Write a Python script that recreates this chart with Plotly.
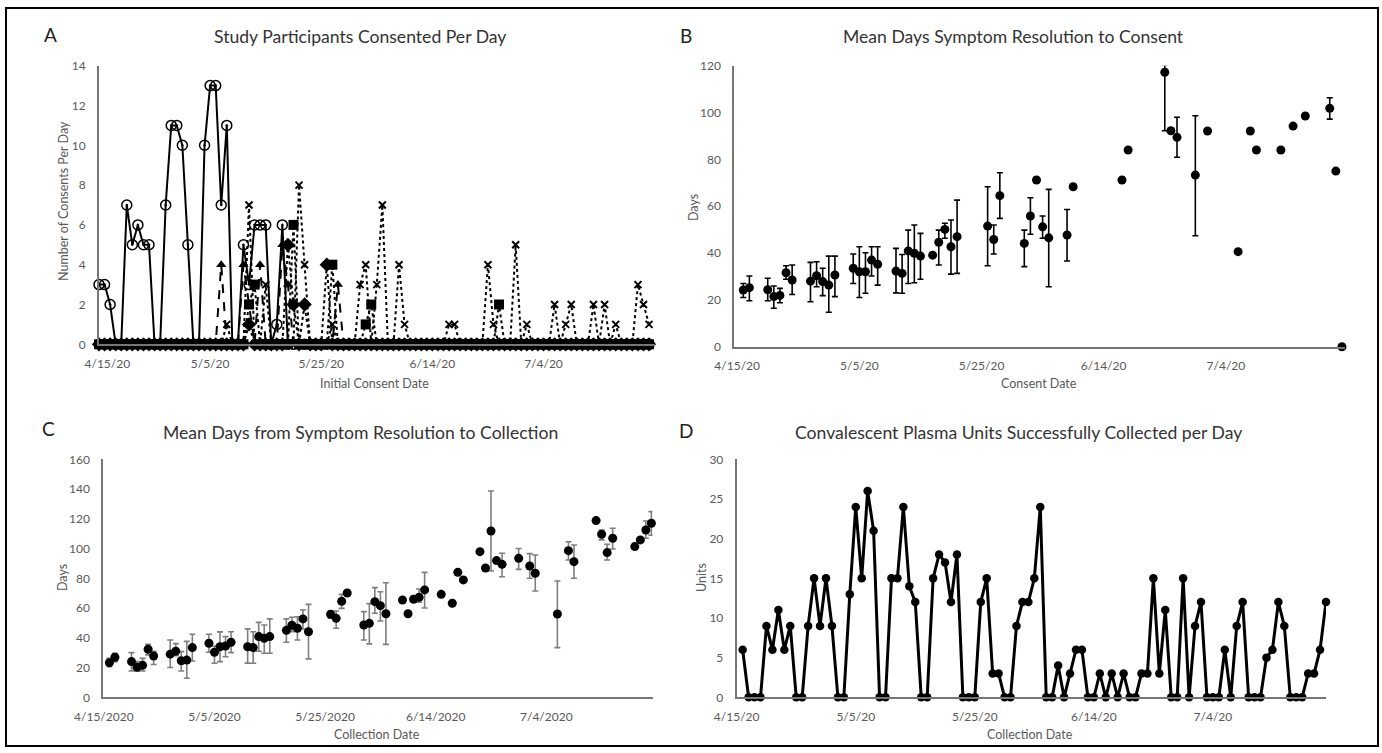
import plotly.graph_objects as go
import pandas as pd

START = pd.Timestamp("2020-04-15")
W, H = 1382, 753

# ---------------- Panel A: consents per day (days since 4/15/20) ----------------
A_days = list(range(100))
A_circle = [3, 3, 2, 0, 0, 7, 5, 6, 5, 5,
            0, 0, 7, 11, 11, 10, 5, 0, 0, 10,
            13, 13, 7, 11, 0, 0, 5, 3, 6, 6,
            6, 0, 1, 6, 0, 0, 0, 0, 0, 0,
            0, 0, 0, 0, 0, 0, 0, 0, 0, 0,
            0, 0, 0, 0, 0, 0, 0, 0, 0, 0,
            0, 0, 0, 0, 0, 0, 0, 0, 0, 0,
            0, 0, 0, 0, 0, 0, 0, 0, 0, 0,
            0, 0, 0, 0, 0, 0, 0, 0, 0, 0,
            0, 0, 0, 0, 0, 0, 0, 0, 0, 0]
A_triangle = [0, 0, 0, 0, 0, 0, 0, 0, 0, 0,
              0, 0, 0, 0, 0, 0, 0, 0, 0, 0,
              0, 0, 4, 0, 0, 0, 4, 2, 0, 4,
              0, 0, 0, 5, 3, 0, 0, 0, 0, 0,
              0, 0, 0, 3, 0, 0, 0, 0, 0, 0,
              0, 0, 0, 0, 0, 0, 0, 0, 0, 0,
              0, 0, 0, 0, 0, 0, 0, 0, 0, 0,
              0, 0, 0, 0, 0, 0, 0, 0, 0, 0,
              0, 0, 0, 0, 0, 0, 0, 0, 0, 0,
              0, 0, 0, 0, 0, 0, 0, 0, 0, 0]
A_cross = [0, 0, 0, 0, 0, 0, 0, 0, 0, 0,
           0, 0, 0, 0, 0, 0, 0, 0, 0, 0,
           0, 0, 0, 1, 0, 0, 0, 7, 0, 0,
           3, 0, 0, 0, 0, 0, 8, 4, 0, 0,
           0, 0, 1, 0, 0, 0, 0, 3, 4, 0,
           3, 7, 0, 0, 4, 1, 0, 0, 0, 0,
           0, 0, 0, 1, 1, 0, 0, 0, 0, 0,
           4, 1, 0, 0, 0, 5, 0, 1, 0, 0,
           0, 0, 2, 0, 1, 2, 0, 0, 0, 2,
           0, 2, 0, 1, 0, 0, 0, 3, 2, 1]
A_square = [0, 0, 0, 0, 0, 0, 0, 0, 0, 0,
            0, 0, 0, 0, 0, 0, 0, 0, 0, 0,
            0, 0, 0, 0, 0, 0, 0, 2, 3, 0,
            0, 0, 0, 0, 0, 6, 0, 0, 0, 0,
            0, 0, 4, 0, 0, 0, 0, 0, 1, 2,
            0, 0, 0, 0, 0, 0, 0, 0, 0, 0,
            0, 0, 0, 0, 0, 0, 0, 0, 0, 0,
            0, 0, 2, 0, 0, 0, 0, 0, 0, 0,
            0, 0, 0, 0, 0, 0, 0, 0, 0, 0,
            0, 0, 0, 0, 0, 0, 0, 0, 0, 0]
A_diamond = [0, 0, 0, 0, 0, 0, 0, 0, 0, 0,
             0, 0, 0, 0, 0, 0, 0, 0, 0, 0,
             0, 0, 0, 0, 0, 0, 0, 1, 0, 0,
             0, 0, 0, 0, 5, 2, 0, 2, 0, 0,
             0, 4, 0, 0, 0, 0, 0, 0, 0, 0,
             0, 0, 0, 0, 0, 0, 0, 0, 0, 0,
             0, 0, 0, 0, 0, 0, 0, 0, 0, 0,
             0, 0, 0, 0, 0, 0, 0, 0, 0, 0,
             0, 0, 0, 0, 0, 0, 0, 0, 0, 0,
             0, 0, 0, 0, 0, 0, 0, 0, 0, 0]

# ---------------- Panel B: mean days symptom resolution to consent ----------------
B_days = [1, 2, 5, 6, 7, 8, 9, 12, 13, 14, 15, 16, 19, 20, 21, 22, 23, 26, 27, 28, 29, 30,
          32, 33, 34, 35, 36, 41, 42, 43, 47, 48, 49, 50, 51, 54, 55, 63, 64, 70, 71, 72,
          75, 77, 82, 84, 85, 89, 91, 93, 97, 98, 99]
B_mean = [24.2, 25.2, 24.3, 21.4, 21.9, 31.6, 28.5, 28.0, 30.3, 27.8, 26.3, 30.6, 33.5, 32.0,
          32.0, 37.0, 35.2, 32.3, 31.3, 40.9, 39.9, 38.7, 39.1, 44.6, 50.1, 42.7, 47.0, 51.5,
          45.8, 64.5, 44.1, 55.8, 71.2, 51.2, 46.5, 47.7, 68.3, 71.2, 84.0, 117.2, 92.2, 89.4,
          73.3, 92.1, 40.6, 92.1, 84.0, 84.0, 94.2, 98.5, 101.8, 75.0, 0.0]
B_upper = [27.0, 30.2, 29.2, 25.9, 24.9, 34.6, 34.9, 36.0, 36.3, 33.5, 38.7, 38.7, 39.6, 42.7,
           40.1, 42.7, 42.7, 42.0, 39.4, 49.8, 52.0, 48.4, None, 49.8, 52.7, 54.1, 62.6, 68.3,
           52.0, 74.3, 49.8, 63.6, None, 55.8, 67.2, 58.6, None, None, None, 120.3, None, 98.0,
           98.6, None, None, None, None, None, None, None, 106.3, None, None]
B_lower = [21.0, 19.6, 19.6, 16.4, 18.8, 28.8, 22.3, 19.2, 25.6, 21.8, 14.7, 21.4, 27.0, 21.0,
           22.8, 30.2, 26.3, 23.0, 22.8, 27.0, 27.3, 28.8, None, 34.9, 46.3, 31.0, 31.3, 34.6,
           39.6, 54.8, 34.2, 48.0, None, 46.3, 25.6, 36.6, None, None, None, 92.2, None, 80.9,
           47.4, None, None, None, None, None, None, None, 97.2, None, None]

# ---------------- Panel C: mean days symptom resolution to collection ----------------
C_days = [1, 2, 5, 6, 7, 8, 9, 12, 13, 14, 15, 16, 19, 20, 21, 22, 23, 26, 27, 28, 29, 30,
          33, 34, 35, 36, 37, 41, 42, 43, 44, 47, 48, 49, 50, 51, 54, 55, 56, 57, 58, 61, 63,
          64, 65, 68, 69, 70, 71, 72, 75, 77, 78, 82, 84, 85, 89, 90, 91, 92, 96, 97, 98, 99]
C_mean = [23.3, 26.9, 24.0, 20.2, 21.5, 32.3, 27.8, 29.0, 31.0, 24.6, 25.0, 33.4, 36.3, 30.3,
          34.0, 34.5, 37.0, 34.0, 33.4, 40.8, 39.7, 40.8, 45.0, 48.4, 46.4, 52.7, 44.1, 55.8,
          53.1, 64.5, 70.1, 48.6, 49.7, 64.3, 61.6, 56.2, 65.4, 56.2, 65.9, 67.2, 72.2, 69.2,
          63.2, 84.0, 78.9, 97.9, 86.9, 111.8, 91.9, 89.4, 93.4, 88.3, 83.4, 56.0, 98.6, 91.2,
          118.8, 109.6, 97.3, 106.9, 101.3, 105.8, 112.5, 117.0]
C_upper = [26.2, 29.6, 30.0, 24.0, 26.2, 35.6, 31.0, 38.5, 36.1, 30.7, 37.6, 42.4, 42.4, 34.5,
           44.0, 40.8, 44.1, 46.0, 44.1, 50.4, 48.6, 52.7, 52.7, 53.8, 54.2, 58.7, 62.5, 58.0,
           58.0, 69.2, None, 57.6, 63.0, 73.7, 71.0, 77.0, None, None, None, 72.8, 84.0, None,
           None, None, None, None, None, 138.7, None, 96.8, 100.0, 96.6, 95.7, 78.2, 104.6,
           102.4, None, 112.5, 102.9, 113.6, None, None, 118.5, 124.8]
C_lower = [20.6, 24.0, 17.7, 17.7, 17.7, 28.5, 22.0, 20.0, 28.0, 17.7, 12.8, 24.4, 30.3, 22.9,
           24.0, 27.3, 30.0, 23.0, 22.9, 31.0, 29.6, 29.6, 37.0, 44.1, 38.5, 45.9, 25.8, 53.1,
           46.4, 59.8, None, 38.5, 35.9, 56.5, 51.3, 35.6, None, None, None, 63.9, 60.0, None,
           None, None, None, None, None, 84.9, None, 81.0, 86.0, 80.0, 71.5, 33.4, 92.3,
           80.0, None, 105.8, 92.3, 99.7, None, None, 106.9, 109.0]

# ---------------- Panel D: plasma units collected per day ----------------
D_days = list(range(1, 100))
D_units = [6, 0, 0, 0, 9, 6, 11, 6, 9, 0,
           0, 9, 15, 9, 15, 9, 0, 0, 13, 24,
           15, 26, 21, 0, 0, 15, 15, 24, 14, 12,
           0, 0, 15, 18, 17, 12, 18, 0, 0, 0,
           12, 15, 3, 3, 0, 0, 9, 12, 12, 15,
           24, 0, 0, 4, 0, 3, 6, 6, 0, 0,
           3, 0, 3, 0, 3, 0, 0, 3, 3, 15,
           3, 11, 0, 0, 15, 0, 9, 12, 0, 0,
           0, 6, 0, 9, 12, 0, 0, 0, 5, 6,
           12, 9, 0, 0, 0, 3, 3, 6, 12]

TICK_DAYS = [0, 20, 40, 60, 80]
TICKS_SHORT = ["4/15/20", "5/5/20", "5/25/20", "6/14/20", "7/4/20"]
TICKS_LONG = ["4/15/2020", "5/5/2020", "5/25/2020", "6/14/2020", "7/4/2020"]


def t(d):
    return START + pd.Timedelta(days=d)


def dates(days):
    return [t(d) for d in days]


def errs(mean, upper, lower):
    plus = [0 if u is None else u - m for m, u in zip(mean, upper)]
    minus = [0 if l is None else m - l for m, l in zip(mean, lower)]
    return plus, minus


FONT = "Lato"
TICK_COLOR = "#595959"
AXIS_COLOR = "#767676"

fig = go.Figure()

# Panel A traces
a_x = dates(A_days)
a_specs = [
    (A_diamond, "dot", dict(symbol="diamond", size=11, color="black")),
    (A_square, "dot", dict(symbol="square", size=10, color="black")),
    (A_cross, "dot", dict(symbol="x-thin", size=7, color="black",
                          line=dict(width=2, color="black"))),
    (A_triangle, "dash", dict(symbol="triangle-up", size=9, color="black")),
    (A_circle, "solid", dict(symbol="circle-open-dot", size=10, color="black",
                             line=dict(width=1.5, color="black"))),
]
for vals, dash, mk in a_specs:
    fig.add_trace(go.Scatter(x=a_x, y=vals, mode="lines+markers", xaxis="x", yaxis="y",
                             line=dict(color="black", width=2, dash=dash), marker=mk,
                             cliponaxis=False, hoverinfo="skip"))

# Panel B
bp, bm = errs(B_mean, B_upper, B_lower)
fig.add_trace(go.Scatter(x=dates(B_days), y=B_mean, mode="markers", xaxis="x2", yaxis="y2",
                         marker=dict(symbol="circle", size=9, color="black"),
                         error_y=dict(type="data", symmetric=False, array=bp, arrayminus=bm,
                                      color="black", thickness=1.6, width=3),
                         cliponaxis=False))

# Panel C
cp, cm = errs(C_mean, C_upper, C_lower)
fig.add_trace(go.Scatter(x=dates(C_days), y=C_mean, mode="markers", xaxis="x3", yaxis="y3",
                         marker=dict(symbol="circle", size=9, color="black"),
                         error_y=dict(type="data", symmetric=False, array=cp, arrayminus=cm,
                                      color="#7f7f7f", thickness=1.6, width=3),
                         cliponaxis=False))

# Panel D
fig.add_trace(go.Scatter(x=dates(D_days), y=D_units, mode="lines+markers", xaxis="x4", yaxis="y4",
                         line=dict(color="black", width=3),
                         marker=dict(symbol="circle", size=8.5, color="black"),
                         cliponaxis=False))


def px_dom(a, b, total):
    return [a / total, b / total]


def py_dom(top, bottom):
    return [1 - bottom / H, 1 - top / H]


def xaxis(dom, r0, r1, tickdays, ticktext, anchor):
    return dict(domain=px_dom(dom[0], dom[1], W), type="date", range=[t(r0), t(r1)],
                tickvals=dates(tickdays), ticktext=ticktext, showline=True,
                linecolor=AXIS_COLOR, linewidth=2, showgrid=False, zeroline=False,
                ticks="", ticklabelstandoff=7, anchor=anchor, automargin=False,
                tickfont=dict(family=FONT, size=12, color=TICK_COLOR))


def yaxis(dom, rmax, dtick, anchor):
    return dict(domain=py_dom(dom[0], dom[1]), range=[0, rmax], dtick=dtick, showline=True,
                linecolor=AXIS_COLOR, linewidth=2, showgrid=False, zeroline=False,
                ticks="", ticklabelstandoff=9, anchor=anchor, automargin=False,
                tickfont=dict(family=FONT, size=12, color=TICK_COLOR))


fig.update_layout(
    width=W, height=H, margin=dict(l=0, r=0, t=0, b=0, pad=0, autoexpand=False),
    paper_bgcolor="white", plot_bgcolor="white", showlegend=False,
    xaxis=xaxis((99, 654.6), 0, 100, [1.5, 20, 40, 60, 80], TICKS_SHORT, "y"),
    yaxis=yaxis((65.7, 344.3), 14, 2, "x"),
    xaxis2=xaxis((734.3, 1345), -0.47, 99.5, TICK_DAYS, TICKS_SHORT, "y2"),
    yaxis2=yaxis((65.7, 346.7), 120, 20, "x2"),
    xaxis3=xaxis((103.3, 652.5), -0.1, 99.2, TICK_DAYS, TICKS_LONG, "y3"),
    yaxis3=yaxis((459.3, 697.3), 160, 20, "x3"),
    xaxis4=xaxis((736.7, 1326), 0, 99, TICK_DAYS, TICKS_SHORT, "y4"),
    yaxis4=yaxis((459.3, 697.3), 30, 5, "x4"),
)


def ann(text, x, y, size, color, angle=0):
    return dict(text=text, x=x / W, y=1 - y / H, xref="paper", yref="paper", showarrow=False,
                xanchor="center", yanchor="middle", textangle=angle,
                font=dict(family=FONT, size=size, color=color))


TITLE_C = "#333333"
LABEL_C = "#595959"
anns = [
    ann("A", 50, 35, 19, "#222222"),
    ann("B", 686, 36, 19, "#222222"),
    ann("C", 49, 428, 19, "#222222"),
    ann("D", 686, 430, 19, "#222222"),
    ann("Study Participants Consented Per Day", 360, 37, 17.6, TITLE_C),
    ann("Mean Days Symptom Resolution to Consent", 1013, 37, 17.6, TITLE_C),
    ann("Mean Days from Symptom Resolution to Collection", 360, 432, 17.6, TITLE_C),
    ann("Convalescent Plasma Units Successfully Collected per Day", 1018, 432, 17.6, TITLE_C),
    ann("Initial Consent Date", 374, 383, 12.5, LABEL_C),
    ann("Consent Date", 1039, 383, 12.5, LABEL_C),
    ann("Collection Date", 377, 734, 12.5, LABEL_C),
    ann("Collection Date", 1030, 734, 12.5, LABEL_C),
    ann("Number of Consents Per Day", 63, 201, 12.5, LABEL_C, -90),
    ann("Days", 694, 207, 12.5, LABEL_C, -90),
    ann("Days", 62, 578, 12.5, LABEL_C, -90),
    ann("Units", 701, 578, 12.5, LABEL_C, -90),
]
fig.update_layout(annotations=anns)

fig.add_shape(type="rect", xref="paper", yref="paper",
              x0=6 / W, x1=1378 / W, y0=1 - 746 / H, y1=1 - 8 / H,
              line=dict(color="black", width=2))

fig.write_html("out.html", config={"displayModeBar": False},
               post_script="document.body.style.margin='0';document.body.style.overflow='hidden';")
